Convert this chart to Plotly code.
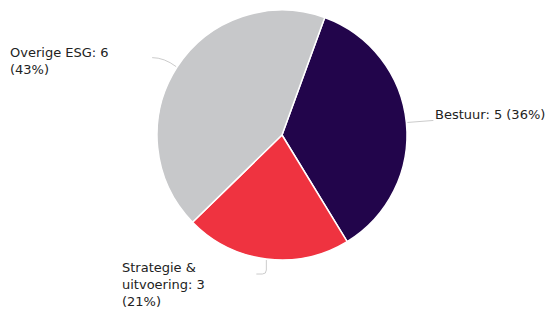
import numpy as np
import plotly.graph_objects as go

W, H = 555, 311

labels = ["Bestuur", "Strategie & uitvoering", "Overige ESG"]
label_text = ["Bestuur: 5 (36%)", "Strategie &<br>uitvoering: 3<br>(21%)", "Overige ESG: 6<br>(43%)"]
values = [5, 3, 6]
colors = ["#22054b", "#ef3340", "#c7c8ca"]

cx, cy, r = 282, 135, 125
rotation = 20

def px(x):
    return x / W

def py(y):
    return 1 - y / H

fig = go.Figure(go.Pie(
    labels=labels, values=values, sort=False, direction="clockwise",
    rotation=rotation, textinfo="none", hoverinfo="label+value+percent",
    marker=dict(colors=colors, line=dict(color="white", width=1.5)),
    domain=dict(x=[px(cx - r), px(cx + r)], y=[py(cy + r), py(cy - r)]),
    showlegend=False,
))

# mid angles (clockwise from 12 o'clock)
vals = np.array(values, dtype=float)
cum = np.cumsum(vals) / vals.sum() * 360
start = np.concatenate([[0], cum[:-1]])
mid = rotation + (start + cum) / 2

def edge(angle, rr):
    a = np.deg2rad(angle)
    return cx + rr * np.sin(a), cy - rr * np.cos(a)

# label anchors (pixel placement of the text blocks)
anchors = [(433, 114), (120, 284), (8, 61)]
shapes = []
for i, ang in enumerate(mid):
    ex, ey = edge(ang, r + 1)
    if i == 0:
        pts = f"M {px(ex)},{py(ey)} L {px(ex+26)},{py(ey-2)}"
    elif i == 1:
        pts = (f"M {px(ex)},{py(ey)} L {px(ex)},{py(ey+10)} "
               f"Q {px(ex)},{py(ey+14)} {px(ex-4)},{py(ey+14)} L {px(ex-10)},{py(ey+14)}")
    else:
        pts = (f"M {px(ex)},{py(ey)} Q {px(ex-12)},{py(ey-9)} {px(ex-24)},{py(ey-9)}")
    shapes.append(dict(type="path", path=pts, xref="paper", yref="paper",
                       line=dict(color="#cccccc", width=1)))

annotations = []
for i, (ax, ay) in enumerate(anchors):
    annotations.append(dict(
        x=px(ax), y=py(ay), xref="paper", yref="paper", text=label_text[i],
        showarrow=False, xanchor="left", yanchor="middle", align="left",
        font=dict(family="DejaVu Sans", size=13, color="#222222"),
    ))

fig.update_layout(
    width=W, height=H, margin=dict(l=0, r=0, t=0, b=0),
    paper_bgcolor="white", plot_bgcolor="white",
    shapes=shapes, annotations=annotations,
)

fig.write_html("out.html", config={"displayModeBar": False},
               post_script="document.body.style.margin='0px';document.body.style.overflow='hidden';")
